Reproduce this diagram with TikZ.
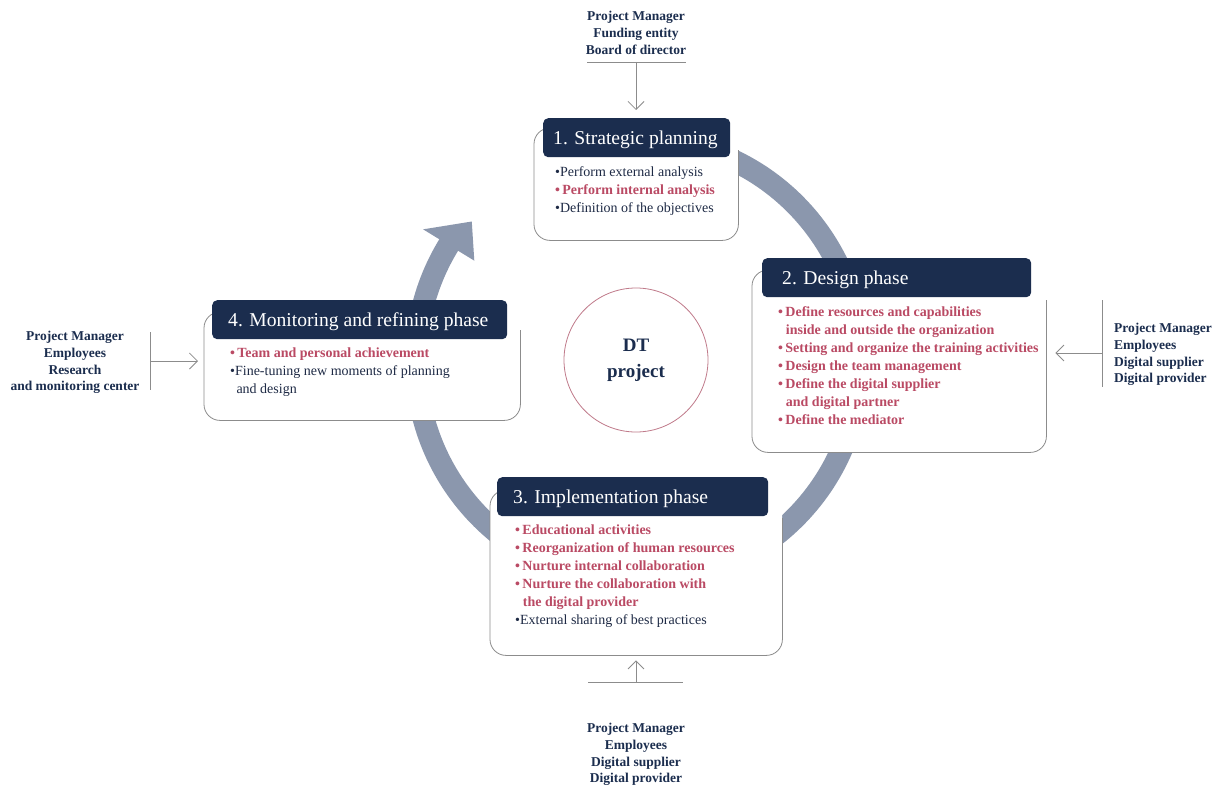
\documentclass[tikz,border=0pt]{standalone}
\usepackage{fontspec}
\setmainfont{Liberation Serif}
\usetikzlibrary{calc,arrows.meta}

\definecolor{navy}{HTML}{1B2D4E}
\definecolor{rosec}{HTML}{BA4A64}
\definecolor{inkc}{HTML}{1E2A45}
\definecolor{ringc}{HTML}{8B97AD}
\definecolor{framec}{HTML}{8C8C8C}
\definecolor{circc}{HTML}{C07A8A}

% bullet items: rose bold and plain dark
\newcommand{\pitem}[1]{{\color{rosec}\bfseries\textbullet\,#1}}
\newcommand{\pcont}[1]{{\color{rosec}\bfseries\hspace{0.55em}#1}}
\newcommand{\ditem}[1]{{\color{inkc}\textbullet#1}}
\newcommand{\dcont}[1]{{\color{inkc}\hspace{0.45em}#1}}

\begin{document}
\begin{tikzpicture}[x=1pt,y=-1pt,
  ring/.style={draw=ringc,line width=22pt},
  panel/.style={fill=white,rounded corners=16pt,inner sep=0pt,anchor=north west},
  frame/.style={draw=framec,line width=0.8pt,rounded corners=16pt},
  titlebox/.style={fill=navy,rounded corners=5pt,inner sep=0pt,anchor=north west},
  titletext/.style={text=white,inner sep=0pt,anchor=base west,font=\fontsize{19.6}{22}\selectfont},
  items/.style={align=left,inner sep=0pt,anchor=north west,font=\fontsize{14}{18}\selectfont},
  actors/.style={text=navy,inner sep=0pt,font=\fontsize{13.5}{16.8}\selectfont\bfseries},
  feed/.style={draw=framec,line width=0.8pt},
  feedarrow/.style={draw=framec,line width=0.8pt,-{Straight Barb[length=8pt,width=16pt]}}
]
\useasboundingbox (0,0) rectangle (1217,789);
\fill[white] (0,0) rectangle (1217,789);

% cycle ring with its arrow head
\coordinate (c) at (638,361);
\draw[ring] ($(c)+(-80:222)$) arc[start angle=-80,end angle=212,radius=222];
\fill[ringc] ($(c)+(211.5:252)$) -- ($(c)+(220:217)$) -- ($(c)+(211.5:192)$) -- cycle;

% centre
\node[circle,draw=circc,line width=0.8pt,minimum size=144pt,align=center,
      text=navy,font=\fontsize{19}{26}\selectfont\bfseries] (core) at (636,360) {DT\\project};

% phase 1
\node[panel,minimum width=204pt,minimum height=112pt] (b1) at (534,128) {};
\draw[frame] ([xshift=26pt]b1.north west) -- (b1.north west) -- (b1.south west) -- (b1.south east) -- ([yshift=-22pt]b1.north east);
\node[titlebox,minimum width=187pt,minimum height=39pt] (t1) at (543,118) {};
\node[titletext] (tt1) at ($(t1.west)+(10,6.5)$) {1. Strategic planning};
\node[items] (i1) at (555,166) {\ditem{Perform external analysis}\\\pitem{Perform internal analysis}\\\ditem{Definition of the objectives}};

% phase 2
\node[panel,minimum width=294pt,minimum height=182pt] (b2) at (752,270) {};
\draw[frame] ([xshift=26pt]b2.north west) -- (b2.north west) -- (b2.south west) -- (b2.south east) -- ([yshift=-30pt]b2.north east);
\node[titlebox,minimum width=269pt,minimum height=39pt] (t2) at (762,258) {};
\node[titletext] (tt2) at ($(t2.west)+(20,6.5)$) {2. Design phase};
\node[items] (i2) at (778,306) {\pitem{Define resources and capabilities}\\\pcont{inside and outside the organization}\\\pitem{Setting and organize the training activities}\\\pitem{Design the team management}\\\pitem{Define the digital supplier}\\\pcont{and digital partner}\\\pitem{Define the mediator}};

% phase 3
\node[panel,minimum width=292pt,minimum height=165pt] (b3) at (490,490) {};
\draw[frame] ([xshift=26pt]b3.north west) -- (b3.north west) -- (b3.south west) -- (b3.south east) -- ([yshift=-28pt]b3.north east);
\node[titlebox,minimum width=271pt,minimum height=39pt] (t3) at (497,477) {};
\node[titletext] (tt3) at ($(t3.west)+(16,6.5)$) {3. Implementation phase};
\node[items] (i3) at (515,525) {\pitem{Educational activities}\\\pitem{Reorganization of human resources}\\\pitem{Nurture internal collaboration}\\\pitem{Nurture the collaboration with}\\\pcont{the digital provider}\\\ditem{External sharing of best practices}};

% phase 4
\node[panel,minimum width=316pt,minimum height=108pt] (b4) at (204,312) {};
\draw[frame] ([xshift=26pt]b4.north west) -- (b4.north west) -- (b4.south west) -- (b4.south east) -- ([yshift=-18pt]b4.north east);
\node[titlebox,minimum width=295pt,minimum height=39pt] (t4) at (212,300) {};
\node[titletext] (tt4) at ($(t4.west)+(16,6.5)$) {4. Monitoring and refining phase};
\node[items] (i4) at (230,348) {\pitem{Team and personal achievement}\\\ditem{Fine-tuning new moments of planning}\\\dcont{and design}};

% stakeholders, top
\node[actors,align=center,anchor=north] (sTop) at (636,11) {Project Manager\\Funding entity\\Board of director};
\coordinate (topL) at (587,62);
\coordinate (topR) at (686,62);
\coordinate (topM) at (636,62);
\draw[feed] (topL) -- (topR);
\draw[feedarrow,shorten >=8pt] (topM) -- (topM |- t1.north);

% stakeholders, right
\node[actors,align=left,anchor=north west] (sRight) at (1114,323) {Project Manager\\Employees\\Digital supplier\\Digital provider};
\coordinate (rightT) at (1102,300);
\coordinate (rightB) at (1102,387);
\coordinate (rightM) at (1102,353);
\draw[feed] (rightT) -- (rightB);
\draw[feedarrow,shorten >=9pt] (rightM) -- (rightM -| b2.east);

% stakeholders, bottom
\node[actors,align=center,anchor=north] (sBottom) at (636,723) {Project Manager\\Employees\\Digital supplier\\Digital provider};
\coordinate (botL) at (588,682);
\coordinate (botR) at (683,682);
\coordinate (botM) at (636,682);
\draw[feed] (botL) -- (botR);
\draw[feedarrow,shorten >=5pt] (botM) -- (botM |- b3.south);

% stakeholders, left
\node[actors,align=center,anchor=north] (sLeft) at (75,331) {Project Manager\\Employees\\Research\\and monitoring center};
\coordinate (leftT) at (150,332);
\coordinate (leftB) at (150,390);
\coordinate (leftM) at (150,361);
\draw[feed] (leftT) -- (leftB);
\draw[feedarrow,shorten >=6pt] (leftM) -- (leftM -| b4.west);
\end{tikzpicture}
\end{document}
